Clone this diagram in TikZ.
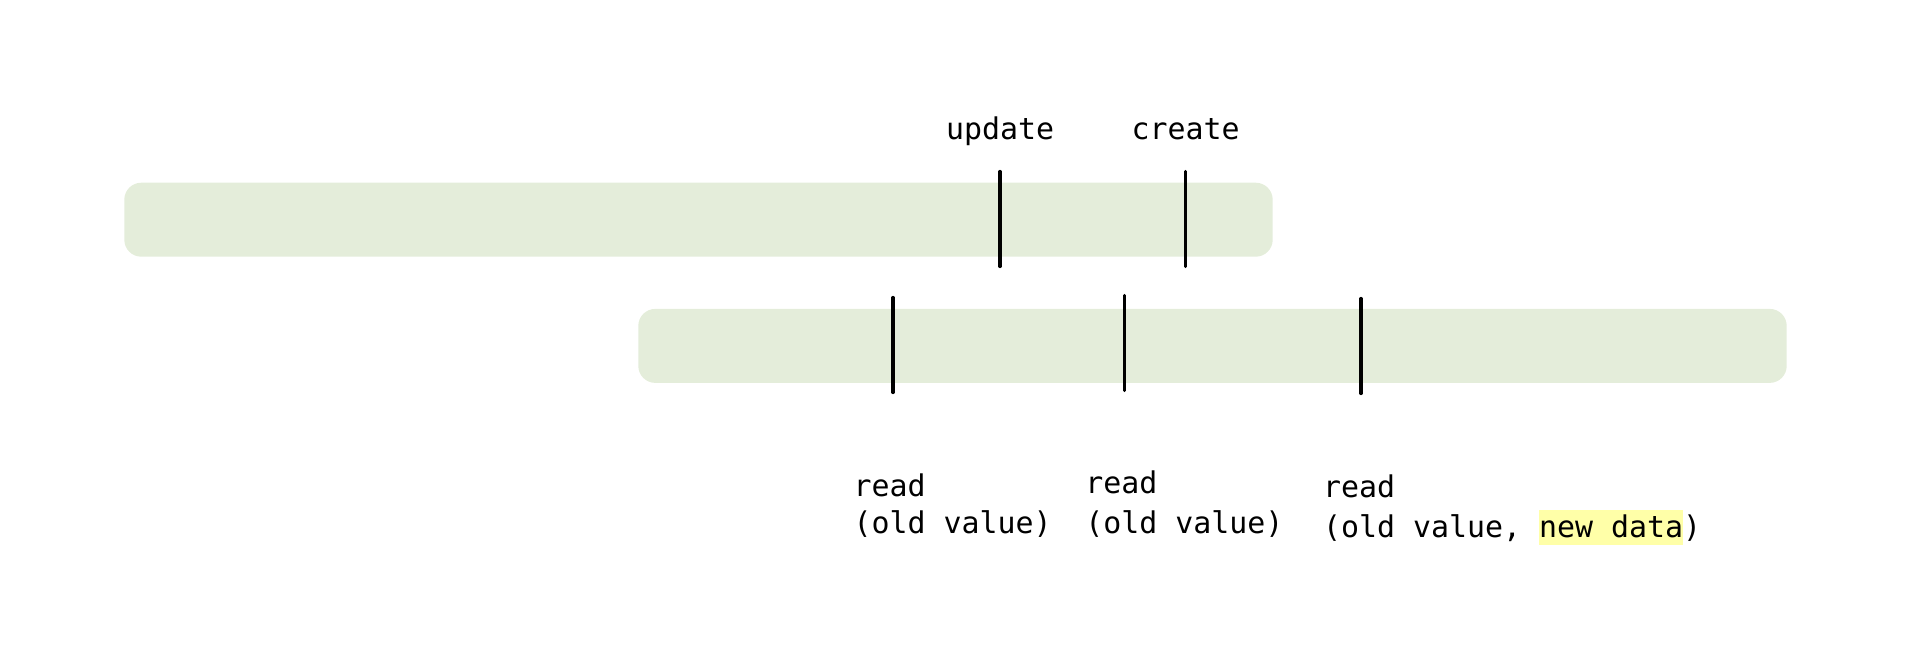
\documentclass[tikz,border=0pt]{standalone}
\usepackage{fontspec}
\newfontfamily\monofont{DejaVu Sans Mono}
\definecolor{barfill}{HTML}{E4EDDA}
\definecolor{hlyellow}{HTML}{FFFFA8}
\newcommand{\hlspan}[1]{{\setlength{\fboxsep}{0pt}\colorbox{hlyellow}{\rule[-7.7pt]{0pt}{34.3pt}#1}}}
\tikzset{
  bar/.style={rectangle, rounded corners=17pt, fill=barfill, draw=none,
    minimum width=1148.4pt, minimum height=74pt, inner sep=0pt, outer sep=0pt},
  tick/.style={line width=3.2pt, line cap=round, draw=black},
  lbl/.style={font=\monofont\fontsize{29.9}{36}\selectfont, inner sep=0pt, outer sep=0pt},
  oplbl/.style={lbl, align=left, anchor=base west},
}
\begin{document}
\begin{tikzpicture}[x=1pt, y=-1pt]
\useasboundingbox (0,0) rectangle (1928,652);
% bars
\node[bar] (top) at (698.5,219.7) {};
\node[bar] (bottom) at (1212.5,345.9) {};
% tick end points
\coordinate (upd1) at (1000,171.5);
\coordinate (upd2) at (1000,266.5);
\coordinate (cre1) at (1185.7,171.5);
\coordinate (cre2) at (1185.7,266.5);
\coordinate (rd1a) at (893,297.5);
\coordinate (rd1b) at (893,392.5);
\coordinate (rd2a) at (1124.5,295.5);
\coordinate (rd2b) at (1124.5,390.5);
\coordinate (rd3a) at (1361,298.5);
\coordinate (rd3b) at (1361,393.5);
\draw[tick] (upd1) -- (upd2);
\draw[tick] (cre1) -- (cre2);
\draw[tick] (rd1a) -- (rd1b);
\draw[tick] (rd2a) -- (rd2b);
\draw[tick] (rd3a) -- (rd3b);
% labels
\node[lbl, anchor=base] (lupd) at (1000,140) {update};
\node[lbl, anchor=base] (lcre) at (1185.7,140) {create};
\node[oplbl] (lrd1) at (853.7,533.5) {read\\[1pt](old value)};
\node[oplbl] (lrd2) at (1085.3,533.5) {read\\[4pt](old value)};
\node[oplbl] (lrd3) at (1323,537) {read\\[4pt](old value, \hlspan{new data})};
\end{tikzpicture}
\end{document}
